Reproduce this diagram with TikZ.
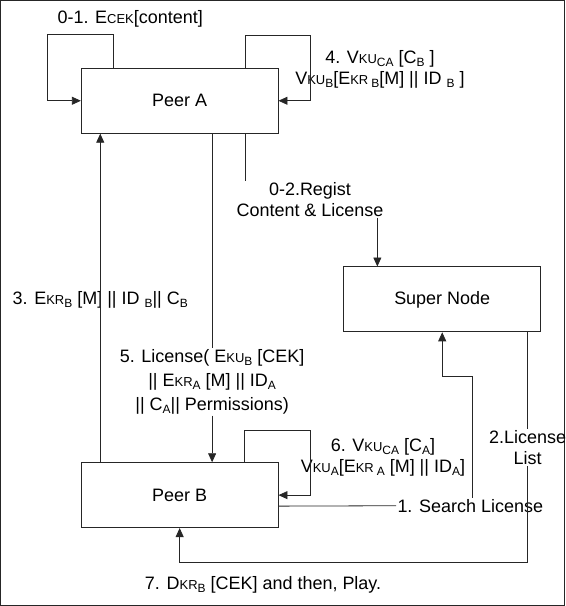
\documentclass[tikz,border=0pt]{standalone}
\usepackage{fontspec}
\setmainfont{Liberation Sans}
\usepackage{xcolor}
\usetikzlibrary{arrows.meta, positioning}

\newcommand{\sml}[1]{{\fontsize{13}{13}\selectfont #1}}
\newcommand{\low}[1]{\raisebox{-3pt}{\fontsize{12}{12}\selectfont #1}}

\begin{document}
\begin{tikzpicture}[x=1pt, y=-1pt, >={Triangle[length=9pt, width=8pt]},
        every node/.style={font=\fontsize{18}{21}\selectfont},
        box/.style={rectangle, draw, line width=0.9pt, minimum width=197pt, minimum height=65pt},
        lbl/.style={align=center, inner sep=1pt},
        every path/.style={line width=0.8pt, draw=black!85}]
        \useasboundingbox (0,0) rectangle (565,606);

        \node (pa) [box] at (179.5,100.5) {Peer A};
        \node (pb) [box, below=329pt of pa] {Peer B};
        \node (sn) [box, below right=133pt and 65pt of pa] {Super Node};
        \coordinate (snin) at ([xshift=34pt]sn.north west);

        \node (l01) [lbl] at (130,18) {0-1. E\sml{CEK}[content]};
        \node (l4) [lbl] at (380,69) {4. V\sml{KU}\low{CA} [C\low{B} ]\\V\sml{KU}\low{B}[E\sml{KR}\,\low{B}[M] || ID \low{B} ]};
        \node (l02) [lbl] at (310,199) {0-2.Regist\\Content \& License};
        \node (l3) [lbl] at (100,300) {3. E\sml{KR}\low{B} [M] || ID \low{B}|| C\low{B}};
        \node (l5) [lbl] at (212,382) {5. License( E\sml{KU}\low{B} [CEK]\\[3pt]|| E\sml{KR}\low{A} [M] || ID\low{A}\\[3pt]|| C\low{A}|| Permissions)};
        \node (l6) [lbl] at (383,458) {6. V\sml{KU}\low{CA} [C\low{A}]\\V\sml{KU}\low{A}[E\sml{KR}\,\low{A} [M] || ID\low{A}]};
        \node (l2) [lbl] at (528,448) {2.License\\List};
        \node (l1) [lbl] at (470.5,506) {1. Search License};
        \node (l7) [lbl] at (263,585) {7. D\sml{KR}\low{B} [CEK] and then, Play.};

        \draw[->] ([xshift=33pt]pa.north west) -- ++(0,-34) -| ([xshift=-33pt]pa.west) -- (pa.west);
        \draw[->] ([xshift=65.5pt]pa.north) -- ++(0,-33) -| ([xshift=32pt]pa.east) -- (pa.east);
        \draw ([xshift=65.5pt]pa.south) -- ([xshift=65.5pt]pa.south |- l02.north);
        \draw[->] (l02.south -| snin) -- (snin);
        \draw[->] (l3.center |- pb.north) -- (l3.center |- pa.south);
        \draw (l5.center |- pa.south) -- (l5.north);
        \draw[->] (l5.south) -- (l5.center |- pb.north);
        \draw[->] ([xshift=64.5pt]pb.north) -- ++(0,-32) -| ([xshift=32pt]pb.east) -- (pb.east);
        \draw ([yshift=-11pt]pb.east) -- (l1.west);
        \draw[->] ([xshift=2.5pt]l1.north) |- ([yshift=-44pt]sn.south) -- (sn.south);
        \draw (l2.north |- sn.south) -- (l2.north);
        \draw[->] (l2.south) |- ([yshift=-34pt]pb.south) -- (pb.south);
\end{tikzpicture}
\end{document}
